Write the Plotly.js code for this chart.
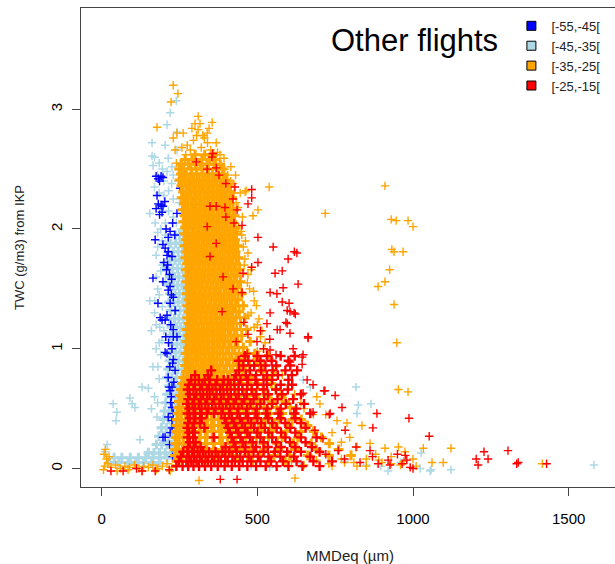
<!DOCTYPE html>
<html><head><meta charset="utf-8">
<script src="https://cdn.plot.ly/plotly-3.0.1.min.js"></script>
<style>html,body{margin:0;padding:0;overflow:hidden;background:#fff;width:615px;height:564px}</style>
</head><body><div id="chart" style="width:620px;height:564px"></div>
<script>
// ---- data (x: MMDeq in µm, y: TWC in g/m3) ----
const seriesNames = ['[-55,-45[', '[-45,-35[', '[-35,-25[', '[-25,-15['];
const xTickVals = [0, 500, 1000, 1500];
const yTickVals = [0, 1, 2, 3];

// dense cloud rows: [TWC, [MMDeq values]]
const lightblueRows = [
 [1.95,[236,250,264]],[1.88,[222,238,252,266]],[1.81,[214,230,246,260,274]],[1.74,[220,236,250,264]],
 [1.67,[212,228,244,258,272]],[1.60,[218,234,248,262]],[1.53,[214,230,244,258,272]],[1.46,[220,236,250,264]],
 [1.39,[216,232,246,260,274]],[1.32,[222,238,252,266]],[1.25,[218,234,248,262,276]],[1.18,[224,240,254,268]],
 [1.11,[220,236,250,264,278]],[1.04,[226,242,256,270]],[0.97,[222,238,252,266]],[0.90,[218,234,248,262,276]],
 [0.83,[214,230,245,260]],[0.76,[210,226,241,256,270]],[0.69,[216,232,247,262]],[0.62,[210,226,241,256]],
 [0.55,[206,222,237,252]],[0.48,[202,218,233,248]],[0.41,[198,214,229,244]],[0.34,[192,208,223,238]],
 [0.27,[184,200,216,232]],[0.20,[176,193,210,226,240]],[0.13,[150,168,186,204,222,238]],
 [0.09,[40,65,92,118,142,165,188,210,232]],[0.05,[25,55,85,110,135,160,185]]
];
const lightbluePts = [
 [240,3.07],[220,2.97],[210,2.87],[242,2.81],[162,2.72],[204,2.70],[242,2.66],[162,2.61],[214,2.59],[165,2.53],
 [226,2.52],[252,2.55],[155,2.13],[170,2.35],[185,2.30],[230,2.45],[245,2.40],[260,2.30],[215,2.32],[250,2.22],
 [240,2.05],[255,2.00],[230,2.25],[172,2.05],[262,2.48],[200,2.40],[190,2.00],[205,1.95],[180,1.85],[195,1.70],
 [175,1.60],[185,1.45],[170,1.30],[160,1.15],[175,1.00],[190,0.95],[165,0.85],[185,0.75],[170,0.60],[160,0.50],
 [180,0.55],[37,0.54],[49,0.47],[46,0.40],[91,0.59],[98,0.54],[130,0.68],[150,0.67],[107,0.51],[123,0.24],
 [178,0.43],[181,0.85],[194,1.07],[171,1.40],[187,1.18],[198,0.22],[150,0.14],[155,1.40],[428,1.25],[647,0.74],
 [670,0.68],[817,0.68],[824,0.53],[865,0.54],[820,0.46],[897,0.02],[920,-0.02],[1122,-0.01],[1058,-0.01],[1581,0.03],
 [1026,0.13],[1023,0.00],[1055,-0.02],[960,0.05],[850,0.03],[780,0.06],[700,0.02],[640,0.04],[540,0.01],[480,0.02],
 [12,0.14],[18,0.20],
 [170,2.60],[185,2.55],[195,2.50],[180,2.45],[210,2.48],[225,2.38],[200,2.28],[190,2.18],[215,2.15],[230,2.10],
 [205,2.05],[180,1.97],[195,1.90],[215,1.88],[175,1.78],[190,1.65],[205,1.55],[180,1.50],[195,1.35],[175,1.20],
 [200,1.15],[185,1.05]
];
const bluePts = [
 [175,2.44],[191,2.44],[182,2.42],[197,2.43],[186,2.40],[178,2.28],[182,2.21],[191,2.20],[197,2.19],[175,2.17],
 [194,2.14],[186,2.12],[203,2.23],[207,2.00],[220,1.98],[214,1.93],[242,2.13],[252,2.34],[172,1.91],[197,1.87],
 [214,1.81],[210,1.78],[226,1.77],[204,1.84],[165,1.59],[197,1.56],[220,1.52],[230,1.43],[220,1.38],[188,1.26],
 [204,1.24],[236,1.32],[230,1.16],[242,1.10],[204,0.97],[210,0.96],[226,1.00],[230,0.91],[236,0.82],[214,0.76],
 [226,0.68],[181,1.38],[194,1.24],[217,0.68],[226,0.51],[226,0.40],[220,0.30],[204,0.26],[236,0.15],[214,1.49],
 [230,1.10],[220,0.65],[224,0.60],[214,0.43],[226,0.34],[197,0.26],[208,1.66],[218,1.62],[212,1.70],[225,1.58],
 [222,1.20],[215,1.05],[228,0.88],[219,0.85],[232,0.72],[222,0.55],[230,0.46],[218,0.20],[228,0.10],[210,1.28],
 [224,1.45],[206,1.10],[200,1.72],[235,1.95],[228,2.05]
];
const orangeRows = [
 [2.62,[300,331,352]],[2.58,[268,290,322,347,366]],[2.54,[256,279,301,316,338,360,381]],
 [2.50,[249,264,287,304,325,343,370,388]],[2.46,[255,272,289,306,322,339,356,372,391]],
 [2.41,[250,263,280,296,313,330,346,363,380,398]],[2.36,[256,272,288,304,321,338,354,371,388,405]],
 [2.31,[262,279,296,312,329,346,362,379,396,414]],[2.26,[257,270,287,304,320,337,354,371,388,404,419]],
 [2.21,[264,278,295,312,328,345,362,379,396,412]],[2.16,[260,271,287,303,320,336,353,370,387,404,422]],
 [2.11,[266,279,295,311,328,344,361,378,395,412,427]],[2.06,[262,274,288,304,320,337,353,370,387,403,420]],
 [2.01,[268,281,296,312,329,345,362,378,395,412,429]],[1.96,[265,276,290,305,321,337,354,370,387,404,421,433]],
 [1.91,[270,283,298,313,329,346,362,379,395,412,429]],[1.86,[267,278,292,307,322,338,355,371,388,404,421,437]],
 [1.81,[272,285,300,315,330,347,363,380,396,413,430]],[1.76,[269,280,294,308,324,340,356,372,389,405,422,440]],
 [1.71,[274,287,301,316,332,348,364,381,397,414,432]],[1.66,[271,282,295,310,325,341,357,373,390,406,424,443]],
 [1.61,[276,289,303,318,333,349,365,382,398,416,434]],[1.56,[272,283,297,311,326,342,358,374,391,408,425,446]],
 [1.51,[277,290,304,319,335,351,367,383,400,417,436]],[1.46,[273,285,298,313,328,344,360,376,393,410,428,450]],
 [1.41,[279,292,306,321,336,352,368,385,402,419,438]],[1.36,[275,287,300,314,330,346,362,378,395,412,430,455]],
 [1.31,[280,293,307,322,338,354,370,387,404,421,442]],[1.26,[275,287,300,315,331,347,363,380,397,414,432,460]],
 [1.21,[279,292,306,322,338,354,371,388,405,423,446]],[1.16,[273,285,298,313,329,346,362,379,396,414,434,466]],
 [1.11,[278,291,305,321,337,354,371,388,406,425,450]],[1.06,[272,284,297,312,328,345,362,379,397,416,437,477]],
 [1.01,[277,290,304,320,337,354,371,389,408,428,455]],[0.96,[270,282,296,311,328,345,362,380,399,419,441,470,492]],
 [0.91,[275,288,303,319,336,353,371,390,410,431,456,500]],
 [0.86,[268,280,294,310,327,344,362,381,401,422,446,476,508]],
 [0.81,[272,286,301,318,335,353,372,392,413,436,462,518]],
 [0.76,[262,276,291,308,326,344,363,383,404,426,451,480,530]],
 [0.71,[258,270,284,299,316,334,353,373,394,416,440,467,500,545]],
 [0.66,[254,266,279,293,309,326,344,363,383,405,428,453,482,518,560]],
 [0.61,[251,264,278,294,311,329,348,368,389,411,435,461,491,530,576]],
 [0.56,[248,260,273,287,303,320,338,357,377,398,421,446,473,506,545,590]],
 [0.51,[246,258,272,288,305,323,342,362,383,406,430,456,486,522,562,606]],
 [0.46,[244,256,269,283,299,316,334,353,374,396,419,444,472,504,540,580,621]],
 [0.41,[242,255,269,285,302,320,340,361,383,407,432,460,491,527,568,612,641]],
 [0.36,[240,252,265,280,296,314,333,353,375,398,423,450,480,514,553,600,661]],
 [0.31,[239,251,265,281,299,318,339,361,385,411,439,470,505,545,592,640,681]],
 [0.26,[238,249,262,277,294,313,333,355,379,404,432,463,497,536,580,630,706]],
 [0.21,[237,248,262,278,296,316,338,362,388,416,447,481,520,564,616,673,731]],
 [0.16,[236,247,260,275,293,313,335,359,385,414,446,482,522,568,620,690,761]],
 [0.11,[236,248,262,279,298,320,344,371,400,432,468,508,553,604,662,730,801]],
 [0.06,[240,258,280,305,333,365,400,440,485,535,590]]
];
const orangePts = [
 [230,3.20],[245,3.13],[223,3.06],[178,2.85],[310,2.94],[355,2.89],[300,2.88],[316,2.88],[290,2.84],[310,2.83],
 [339,2.80],[262,2.80],[242,2.80],[230,2.76],[325,2.78],[345,2.84],[368,2.72],[380,2.62],[393,2.59],[236,2.66],
 [240,2.55],[422,2.38],[461,2.31],[464,2.32],[538,2.35],[486,2.11],[502,2.16],[718,2.13],[440,2.02],[450,1.95],
 [455,1.85],[460,1.75],[470,1.62],[475,1.50],[490,1.40],[480,1.30],[500,1.20],[510,1.10],[520,1.00],[540,0.92],
 [560,0.85],[580,0.78],[600,0.70],[620,0.62],[640,0.55],
 [430,2.45],[445,2.30],[438,2.18],[452,2.10],[448,1.98],[462,1.90],[470,1.80],[458,1.70],[480,1.66],[468,1.55],
 [488,1.48],[497,1.36],[470,1.28],[505,1.25],[490,1.18],[515,1.15],[525,1.05],[500,0.98],[535,0.95],[520,0.88],
 [555,0.80],[275,2.70],[295,2.74],[320,2.68],[350,2.66],[372,2.64],[258,2.68],[285,2.66],[340,2.72],[330,2.76],
 [305,2.78],[270,2.62],[395,2.50],[405,2.45],[415,2.40],[425,2.30],[432,2.22],[415,2.52],
 [910,2.36],[930,2.08],[946,2.07],[984,2.07],[1000,2.02],[932,1.83],[939,1.81],[968,1.81],[925,1.66],[910,1.56],
 [888,1.52],[939,1.37],[948,1.05],[953,0.66],[984,0.64],
 [691,0.60],[701,0.54],[756,0.40],[788,0.38],[836,0.36],[797,0.26],[862,0.21],[910,0.17],[953,0.18],[974,0.14],
 [650,0.50],[680,0.45],[720,0.45],[740,0.30],[770,0.22],[820,0.18],[880,0.12],[930,0.10],[1033,0.17],[1122,0.17],
 [1061,0.05],[1097,0.05],[1415,0.04],[1000,0.08],[850,0.08],[900,0.05],[960,0.03],[820,0.02],[780,0.05],[740,0.02],
 [610,0.06],[650,0.03],[690,0.07],[730,0.04],[770,0.08],[810,0.05],[850,0.02],[890,0.07],[930,0.04],[970,0.06],[1010,0.02],
 [8,0.12],[12,0.16],[16,0.08],[20,0.04],[10,0.02],[24,0.10],[6,-0.01],[30,0.01],[45,0.03],[60,0.00],
 [75,0.02],[90,0.01],[105,0.03],[120,0.00],[135,0.02],[150,0.01],[165,0.03],[180,0.00],[195,0.02],[210,0.04],
 [225,0.01],[240,0.03],[313,-0.10],[621,-0.08],[50,-0.02],[85,-0.01],[130,-0.02],[175,-0.01],[220,-0.02]
];
const redRows = [
 [0.94,[460,500,531,575,620]],[0.90,[440,471,510,546,600]],[0.86,[455,490,526,561,606]],
 [0.82,[352,441,476,512,549,590,628]],[0.78,[300,341,431,463,496,531,566,611]],
 [0.74,[288,312,331,348,371,392,406,426,446,470,494,520,548,600]],
 [0.70,[280,300,322,345,366,389,414,440,468,500,531,575,612]],
 [0.66,[276,295,316,338,356,380,403,427,452,482,520,560,598]],
 [0.62,[283,304,326,347,369,392,415,440,466,497,535,580,640]],
 [0.58,[278,297,318,339,361,383,407,431,458,488,522,565,615]],
 [0.54,[274,292,312,333,355,378,400,424,450,478,510,548,592,650]],
 [0.50,[281,300,321,343,366,389,413,439,467,498,532,575,625]],
 [0.46,[276,295,316,338,361,385,410,436,464,494,528,568,618,670]],
 [0.42,[283,301,322,395,418,444,470,500,535,575,622]],
 [0.38,[278,296,316,400,425,451,480,512,548,590,640]],
 [0.34,[275,292,330,406,432,460,490,524,562,606,655]],
 [0.30,[281,299,412,439,468,500,536,576,622]],
 [0.26,[276,294,360,418,446,476,510,548,590,640,690]],
 [0.22,[283,302,424,453,485,520,560,605,655]],
 [0.18,[278,296,318,398,430,462,496,534,576,622,675]],
 [0.14,[262,275,290,308,326,345,366,388,410,434,460,488,520,556,596,640,700]],
 [0.10,[255,280,297,315,334,354,375,397,420,445,472,502,536,574,618,670]],
 [0.06,[248,272,288,305,323,342,362,383,405,428,453,480,510,544,582,626,680,740]],
 [0.02,[240,260,278,295,313,332,352,373,395,418,442,468,496,527,562,600,645,700]]
];
const redPts = [
 [357,2.63],[354,2.60],[304,2.56],[339,2.50],[368,2.51],[377,2.45],[399,2.38],[428,2.35],[482,2.33],[482,2.26],
 [422,2.25],[470,2.21],[348,2.19],[368,2.19],[396,2.18],[435,2.16],[399,2.10],[425,2.05],[451,2.03],[339,2.02],
 [502,1.93],[368,1.88],[551,1.85],[619,1.81],[627,1.80],[599,1.75],[502,1.72],[348,1.77],[580,1.65],[557,1.63],
 [454,1.63],[482,1.68],[631,1.54],[541,1.47],[580,1.39],[605,1.31],[618,1.30],[541,1.30],[531,1.21],[457,1.22],
 [596,1.21],[564,1.16],[605,1.13],[663,1.09],[432,1.06],[499,1.06],[467,0.96],[615,1.00],[541,0.99],[644,0.93],
 [605,0.89],[627,0.82],[717,0.65],[750,0.61],[387,1.31],[390,1.60],[422,1.50],[451,1.47],[583,1.51],[563,1.46],
 [602,1.38],[622,1.29],[596,1.32],[592,1.22],[573,1.16],[663,1.10],[647,0.95],[644,0.87],[660,0.74],[679,0.70],
 [647,0.63],[679,0.47],[731,0.45],[685,0.32],[711,0.25],[782,0.32],[817,0.18],[862,0.15],[888,0.04],[926,0.03],
 [980,0.07],[1000,0.00],[714,0.65],[772,0.51],[734,0.46],[884,0.46],[871,0.34],[987,0.42],[1052,0.27],[975,0.11],
 [1228,0.14],[1305,0.15],[1241,0.08],[1203,0.08],[1209,0.03],[1333,0.04],[1338,0.05],[1429,0.04],[991,0.01],[965,0.04],
 [381,-0.09],[435,-0.09],[30,-0.02],[69,-0.02],[130,-0.02],[172,-0.02],[217,-0.01],[112,0.00],[470,1.12],[510,1.15],
 [540,1.08],[560,0.95],[520,1.00],[780,0.08],[830,0.05],[870,0.10],[920,0.07],[950,0.12],[760,0.15],[720,0.12]
];

// ---- build ----
function fromRows(rows){const x=[],y=[];rows.forEach(r=>r[1].forEach(v=>{x.push(v);y.push(r[0]);}));return {x,y};}
function fromPts(pts){return {x:pts.map(p=>p[0]),y:pts.map(p=>p[1])};}
const COL = {blue:'#0000FF', lightblue:'#ADD8E6', orange:'#FFA500', red:'#FF0000'};
function layer(d,color,size,w,group){
  return {type:'scatter',mode:'markers',x:d.x,y:d.y,showlegend:false,hoverinfo:'skip',legendgroup:group,
    marker:{symbol:'cross-thin',size:size,color:color,line:{color:color,width:w}}};
}
function legendItem(name,color){
  return {type:'scatter',mode:'markers',x:[null],y:[null],name:name,legendgroup:name,showlegend:true,hoverinfo:'skip',
    marker:{symbol:'square',size:9,color:color,line:{color:'#000',width:1}}};
}
const traces = [
  layer(fromRows(lightblueRows),COL.lightblue,7,3.0,seriesNames[1]),
  layer(fromPts(lightbluePts),COL.lightblue,6,1.5,seriesNames[1]),
  layer(fromPts(bluePts),COL.blue,6,1.4,seriesNames[0]),
  layer(fromRows(orangeRows),COL.orange,7,3.0,seriesNames[2]),
  layer(fromPts(orangePts),COL.orange,6,1.4,seriesNames[2]),
  layer(fromRows(redRows),COL.red,7,2.4,seriesNames[3]),
  layer(fromPts(redPts),COL.red,6,1.4,seriesNames[3]),
  legendItem(seriesNames[0],COL.blue),
  legendItem(seriesNames[1],COL.lightblue),
  legendItem(seriesNames[2],COL.orange),
  legendItem(seriesNames[3],COL.red)
];
const FONT = 'Liberation Sans, Arial, sans-serif';
const layout = {
  width:620, height:564,
  margin:{l:81,r:1,t:8,b:77,pad:0},
  paper_bgcolor:'#fff', plot_bgcolor:'#fff',
  font:{family:FONT,size:15,color:'#000'},
  xaxis:{range:[-66.2,1661.5],tickvals:xTickVals,ticktext:xTickVals.map(String),showgrid:false,zeroline:false,
    showline:true,mirror:true,linecolor:'#444',linewidth:1,ticks:'outside',ticklen:8,tickcolor:'#444',
    ticklabelstandoff:10,tickfont:{family:FONT,size:15,color:'#000'},
    title:{text:'MMDeq (µm)',font:{family:FONT,size:15,color:'#222'},standoff:27}},
  yaxis:{range:[-0.154,3.845],tickvals:yTickVals,ticktext:yTickVals.map(String),showgrid:false,zeroline:false,
    showline:true,mirror:true,linecolor:'#444',linewidth:1,ticks:'outside',ticklen:8,tickcolor:'#444',
    tickangle:-90,ticklabelstandoff:4,tickfont:{family:FONT,size:15,color:'#000'},
    title:{text:'TWC (g/m3) from IKP',font:{family:FONT,size:13,color:'#222'},standoff:20}},
  showlegend:true,
  legend:{x:0.80,y:0.994,xanchor:'left',yanchor:'top',bgcolor:'rgba(0,0,0,0)',borderwidth:0,
    font:{family:FONT,size:13,color:'#222'},traceorder:'normal'},
  annotations:[{text:'Other flights',xref:'paper',yref:'paper',x:0.62,y:0.933,xanchor:'center',yanchor:'middle',
    showarrow:false,font:{family:FONT,size:31,color:'#000'}}]
};
Plotly.newPlot('chart',traces,layout,{displayModeBar:false,staticPlot:true});
</script></body></html>
